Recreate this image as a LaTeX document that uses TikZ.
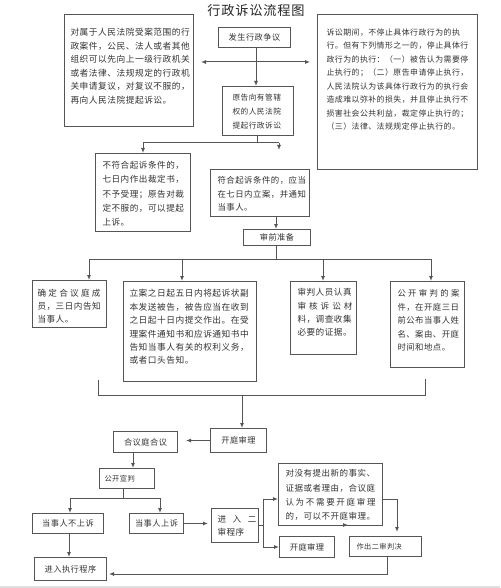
\documentclass[tikz,border=0pt]{standalone}
\usepackage{fontspec}
\setmainfont{Noto Sans CJK SC}[LetterSpace=6]
\usetikzlibrary{arrows.meta}
\definecolor{lc}{HTML}{555555}
\definecolor{tc}{HTML}{333333}
\makeatletter
\newcommand\jl[2]{\hbox to #1pt{\let\jl@sep\relax\@tfor\jl@c:=#2\do{\jl@sep\jl@c\def\jl@sep{\hfil}}}}
\makeatother
% width, height, top pad, left pad, font size, line skip, text
\newcommand\boxtxt[7]{\parbox[c][#2pt][t]{#1pt}{\fontsize{#5pt}{#6pt}\selectfont\vspace*{#3pt}\leftskip=#4pt\relax\rightskip=0pt plus 1fil\relax\noindent #7\par}}
\begin{document}
\begin{tikzpicture}[x=1pt,y=-1pt,
  box/.style={draw=lc,line width=1pt,fill=white,inner sep=0pt,anchor=north west,text=tc,font=\fontsize{8.2}{10}\selectfont},
  ln/.style={draw=lc,line width=1pt},
  arr/.style={ln,-{Latex[length=5pt,width=4pt]}}]
\fill[white] (0,0) rectangle (500,588);
\useasboundingbox (0,0) rectangle (500,588);
\fill[black!12] (0,586) rectangle (500,588);

\node[text=black!85,font=\fontsize{13.2}{15}\selectfont] (title) at (256,10) {行政诉讼流程图};

% top row
\node[box] (L) at (64,14) {\boxtxt{129}{112}{14}{6}{8.7}{13.5}{对属于人民法院受案范围的行\\政案件，公民、法人或者其他\\组织可以先向上一级行政机关\\或者法律、法规规定的行政机\\关申请复议，对复议不服的，\\再向人民法院提起诉讼。}};
\node[box,minimum width=72pt,minimum height=20pt] (S) at (218,27) {发生行政争议};
\node[box] (R) at (317,14) {\boxtxt{160}{155}{14}{9}{7.9}{13.5}{诉讼期间，不停止具体行政行为的执\\行。但有下列情形之一的，停止具体行\\政行为的执行：（一）被告认为需要停\\止执行的；（二）原告申请停止执行，\\人民法院认为该具体行政行为的执行会\\造成难以弥补的损失，并且停止执行不\\损害社会公共利益，裁定停止执行的；\\（三）法律、法规规定停止执行的。}};
\node[box] (P) at (222,86) {\boxtxt{71}{49}{7}{10}{7.7}{14}{原告向有管辖\\权的人民法院\\提起行政诉讼}};

\node[box] (N) at (95,153) {\boxtxt{95}{78}{8}{7}{8.6}{14.2}{不符合起诉条件的，\\七日内作出裁定书，\\不予受理；原告对裁\\定不服的，可以提起\\上诉。}};
\node[box] (Y) at (210,169) {\boxtxt{99}{47}{7}{7}{8.4}{13.5}{符合起诉条件的，应当\\在七日内立案，并通知\\当事人。}};
\node[box,minimum width=67pt,minimum height=16pt] (Q) at (243,229) {审前准备};

% middle row
\node[box] (A1) at (32,280) {\boxtxt{74}{47}{9}{5}{8.6}{12.8}{\jl{63}{确定合议庭成}\\员，三日内告知\\当事人。}};
\node[box] (B1) at (123,281) {\boxtxt{133}{100}{8}{6}{8.7}{13.4}{立案之日起五日内将起诉状副\\本发送被告，被告应当在收到\\之日起十日内提交作出。在受\\理案件通知书和应诉通知书中\\告知当事人有关的权利义务，\\或者口头告知。}};
\node[box] (C1) at (290,281) {\boxtxt{66}{73}{7}{7}{8.6}{13.4}{审判人员认真\\\jl{55}{审核诉讼材}\\料，调查收集\\必要的证据。}};
\node[box] (D1) at (390,281) {\boxtxt{74}{86}{8}{7}{8.35}{13.5}{\jl{62}{公开审判的案}\\件，在开庭三日\\前公布当事人姓\\名、案由、开庭\\时间和地点。}};

% lower part
\node[box,minimum width=56pt,minimum height=24pt] (K) at (210,428) {开庭审理};
\node[box,minimum width=64pt,minimum height=21pt] (HY) at (113,431) {合议庭合议};
\node[box,minimum width=55pt,minimum height=20pt] (GK) at (99,468) {\makebox[55pt][l]{\hspace{5pt}\fontsize{7.3}{8}\selectfont 公开宣判}};
\node[box,minimum width=71pt,minimum height=20pt] (NS) at (32,513) {当事人不上诉};
\node[box,minimum width=54pt,minimum height=20pt] (SS) at (129,513) {当事人上诉};
\node[box] (ER) at (211,508) {\boxtxt{47}{34}{7}{6}{8.6}{12.5}{\jl{39}{进入二}\\审程序}};
\node[box,minimum width=72pt,minimum height=23pt] (EX) at (34,557) {进入执行程序};
\node[box] (E) at (278,463) {\boxtxt{104}{62}{6}{7}{8.5}{14.3}{对没有提出新的事实、\\证据或者理由，合议庭\\\jl{90}{认为不需要开庭审理}\\的，可以不开庭审理。}};
\node[box,minimum width=55pt,minimum height=21pt] (K2) at (279,536) {开庭审理};
\node[box,minimum width=72pt,minimum height=20pt] (J) at (349,536) {\makebox[72pt][l]{\hspace{7pt}\fontsize{7.2}{8}\selectfont 作出二审判决}};

% connectors: top
\coordinate (j1) at (256,62);
\draw[arr] (S.south -| j1) -- (P.north -| j1);
\draw[arr,shorten >=7pt] (j1) -- (L.east |- j1);
\draw[arr,shorten >=7pt] (j1) -- (R.west |- j1);

\coordinate (j2) at (257,143);
\coordinate (n2) at (143,143);
\coordinate (y2) at (279,143);
\draw[ln] (P.south -| j2) -- (j2);
\draw[ln] (n2) -- (y2);
\draw[arr] (n2) -- (N.north -| n2);
\draw[arr,shorten >=19pt] (y2) -- (Y.north -| y2);

\coordinate (qx) at (276,0);
\draw[arr] (Y.south -| qx) -- (Q.north -| qx);

\coordinate (j3) at (276,259);
\coordinate (a3) at (89,259);
\coordinate (b3) at (182,259);
\coordinate (c3) at (323,259);
\coordinate (d3) at (431,259);
\draw[ln] (Q.south -| j3) -- (j3);
\draw[ln] (a3) -- (d3);
\draw[arr] (a3) -- (A1.north -| a3);
\draw[arr] (b3) -- (B1.north -| b3);
\draw[arr] (c3) -- (C1.north -| c3);
\draw[arr] (d3) -- (D1.north -| d3);

% collector
\coordinate (k1) at (98,380);
\coordinate (k2) at (98,395);
\coordinate (k3) at (425,395);
\coordinate (k4) at (425,379);
\coordinate (k5) at (242,395);
\draw[ln] (k1) -- (k2) -- (k3) -- (k4);
\draw[arr] (k5) -- (K.north -| k5);

\draw[arr,shorten >=8pt] (K.west) -- (HY.east |- K.west);
\coordinate (hx) at (133,0);
\draw[arr] (HY.south -| hx) -- (GK.north -| hx);

\coordinate (g1) at (123,498);
\coordinate (g2) at (70,498);
\coordinate (g3) at (160,498);
\draw[ln] (GK.south -| g1) -- (g1);
\draw[ln] (g2) -- (g3);
\draw[arr] (g2) -- (NS.north -| g2);
\draw[arr] (g3) -- (SS.north -| g3);

\draw[arr,shorten >=3pt] (SS.east) -- (ER.west |- SS.east);
\coordinate (nx) at (69,0);
\draw[arr] (NS.south -| nx) -- (EX.north -| nx);

\coordinate (e1) at (263,499);
\coordinate (e2) at (263,547);
\draw[ln] (ER.east) -- (ER.east -| e1);
\draw[ln] (e1) -- (e2);
\draw[arr] (e1) -- (E.west |- e1);
\draw[arr] (e2) -- (K2.west |- e2);

\coordinate (e3) at (397,499);
\draw[arr,shorten >=4pt] (E.east |- e3) -- (e3) -- (J.north -| e3);

\coordinate (s1) at (334,525);
\coordinate (s2) at (348,525);
\draw[arr] (s1) -- (s2);

\coordinate (b1) at (387,574);
\draw[arr,shorten >=2pt] (J.south -| b1) -- (b1) -- (EX.east |- b1);
\end{tikzpicture}
\end{document}
